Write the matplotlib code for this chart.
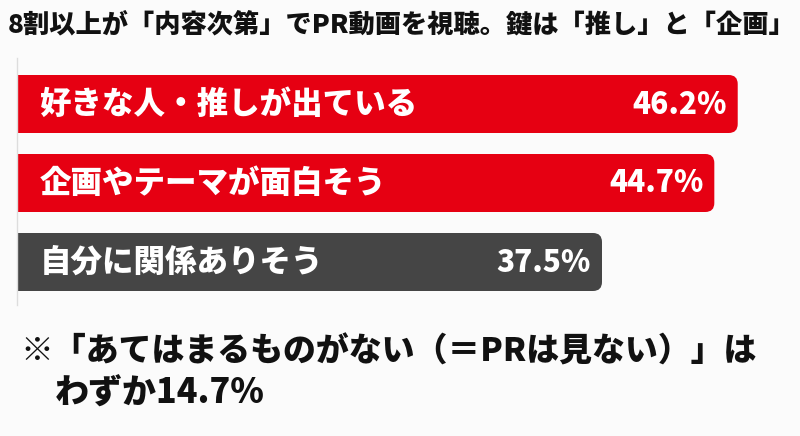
import matplotlib

matplotlib.use('Agg')
import matplotlib.pyplot as plt
from matplotlib.patches import FancyBboxPatch

plt.rcParams['font.family'] = ['Noto Sans CJK JP', 'DejaVu Sans']

title = "8割以上が「内容次第」でPR動画を視聴。鍵は「推し」と「企画」"
labels = ["好きな人・推しが出ている", "企画やテーマが面白そう", "自分に関係ありそう"]
values = [46.2, 44.7, 37.5]
colors = ["#e60012", "#e60012", "#454545"]
note_line1 = "※「あてはまるものがない（＝PRは見ない）」は"
note_line2 = "わずか14.7%"

W, H = 800, 436
fig = plt.figure(figsize=(W / 100, H / 100), dpi=100)
fig.patch.set_facecolor("#fbfbfb")

# axes placed in pixel terms
ax_left, ax_right, ax_top, ax_bottom = 17, 800, 58, 305
ax = fig.add_axes([ax_left / W, 1 - ax_bottom / H, (ax_right - ax_left) / W, (ax_bottom - ax_top) / H])
ax.set_facecolor("none")

px_per_unit = 15.6
xmax = (ax_right - ax_left) / px_per_unit
row_px = 79.0
y_top = -(104 - ax_top) / row_px
y_bot = 2 + (ax_bottom - 262) / row_px
ax.set_xlim(0, xmax)
ax.set_ylim(y_bot, y_top)

xu = xmax / (ax_right - ax_left)
yu = (y_bot - y_top) / (ax_bottom - ax_top)
bar_h = 58 / row_px
r = 9 * xu

for i, (lab, v, c) in enumerate(zip(labels, values, colors)):
    box = FancyBboxPatch((0, i - bar_h / 2), v, bar_h,
                         boxstyle=f"round,pad=0,rounding_size={r}",
                         mutation_aspect=yu / xu, fc=c, ec="none")
    ax.add_patch(box)
    ax.barh(i, v / 2, height=bar_h, left=0, color=c)
    ax.text(23 * xu, i, lab, color="white", fontsize=22.7, fontweight=900,
            va="center", ha="left")
    ax.text(v - 11 * xu, i, f"{v}%", color="white", fontsize=21.5, fontweight=900,
            va="center", ha="right")

for s in ["top", "right", "bottom"]:
    ax.spines[s].set_visible(False)
ax.spines["left"].set_color("#dddddd")
ax.spines["left"].set_linewidth(1)
ax.set_xticks([])
ax.set_yticks([])

fig.text(8 / W, 1 - 24 / H, title, fontsize=18.9, fontweight=900, color="#111111",
         va="center", ha="left")
fig.text(20 / W, 1 - 352 / H, note_line1, fontsize=23.7, fontweight=900, color="#111111",
         va="center", ha="left")
fig.text(55 / W, 1 - 393 / H, note_line2, fontsize=24.5, fontweight=900, color="#111111",
         va="center", ha="left")

fig.savefig("out.png", dpi=100, facecolor=fig.get_facecolor())
